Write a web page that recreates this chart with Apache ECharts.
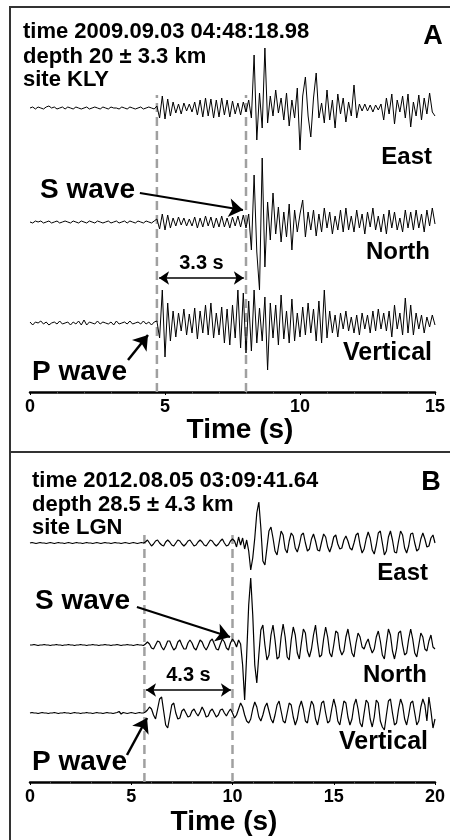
<!DOCTYPE html>
<html>
<head>
<meta charset="utf-8">
<title>seismograms</title>
<script src="https://cdn.jsdelivr.net/npm/echarts@6/dist/echarts.min.js"></script>
<style>
  html, body { margin: 0; padding: 0; background: #fff; }
  #chart { width: 450px; height: 840px; }
</style>
</head>
<body>
<div id="chart"></div>
<script>
const dt = 0.1

// ---- event A (2009.09.03, KLY), 0..15 s ----
const eastA = [
  0, 1, -1, 1, 0, -1, 1, 2, 0, 1,
  -1, 0, 1, -1, 1, 0, -1, 1, 0, -1,
  0, 1, -1, 0, 1, 0, -1, 1, 0, -1,
  1, 0, 0, -1, 1, 0, -1, 1, 0, -1,
  0, 1, -1, 0, 1, 0, -1, 2, -10, 12,
  -11, 9, -8, 6, -5, 4, -6, 5, -3, 4,
  -4, 6, -7, 8, -9, 10, -8, 9, -10, 8,
  -9, 10, -7, 8, -9, 7, -6, 5, -7, 6,
  -4, 8, -10, 53, -32, 15, -20, 60, -15, 12,
  -8, 18, -5, 10, -12, 15, -18, 8, -10, 20,
  -42, 12, 31, -8, -29, 10, 35, -10, 5, -15,
  18, -12, 8, -20, 14, -6, 10, -14, 6, -8,
  23, -10, 4, -3, 4, -3, 3, -4, 3, -2,
  4, -12, 10, -6, 14, -16, 8, -4, 12, -10,
  14, -19, 6, -8, 13, -12, 10, -6, 15, -4,
  -8
]
const northA = [
  0, -1, 1, 0, 1, -1, 0, 1, -1, 0,
  1, -1, 0, 1, 0, -1, 1, 0, -1, 1,
  0, -1, 1, 0, -1, 1, 0, -1, 0, 1,
  -1, 0, 1, -1, 0, 1, -1, 1, 0, -1,
  1, 0, -1, 1, 0, -1, 1, 3, -7, 8,
  -8, 7, -6, 4, -4, 5, -3, 4, -4, 3,
  -4, 5, -6, 4, -5, 6, -4, 5, -6, 4,
  -5, 6, -5, 4, -6, 5, -4, 6, -5, 7,
  -6, 8, -28, 47, -30, -68, 64, -45, 20, -18,
  29, -12, 15, -20, 10, -15, 18, -28, 12, -10,
  8, 22, -15, 10, -8, 12, -14, 8, -10, 14,
  -6, 10, -12, 6, -8, 12, -10, 14, -8, 6,
  -10, 12, -6, 8, -12, 10, -5, 14, -8, 6,
  -10, 8, -12, 12, -6, 10, -8, 4, -10, 12,
  -6, 10, -8, 12, -6, 8, -10, 12, -4, 14,
  -2
]
const vertA = [
  1, -2, 1, 0, 2, -1, 1, -2, 0, 1,
  -1, 2, -1, 0, 1, -2, 1, -1, 2, -2,
  3, -2, 1, 0, -1, 2, -1, 1, 0, -1,
  1, -2, 2, -1, 0, 1, -1, 2, -1, 0,
  1, -1, 2, -1, 1, -2, 1, 2, -15, 33,
  -34, 20, -18, 12, -14, 10, -8, 14, -12, 9,
  -10, 15, -16, 12, -10, 18, -12, 20, -15, 10,
  -12, 16, -20, 14, -22, 18, -15, 33, -25, 30,
  -30, 22, -28, 33, -20, 15, -18, 26, -47, 20,
  -15, 18, -22, 28, -16, 12, -20, 24, -18, 10,
  -14, 16, -12, 20, -10, 14, -18, 22, -20, 33,
  -15, 12, -10, 8, -14, 10, -6, 12, -8, 6,
  -10, 8, -12, 10, -6, 8, -10, 12, -8, 14,
  -6, 10, -8, 12, -14, 18, -6, 10, -12, 25,
  -10, 18, -12, 10, -6, 8, -10, 6, -4, 8,
  -2
]

// ---- event B (2012.08.05, LGN), 0..20 s ----
const eastB = [
  0, 0.5, 0, -0.5, 0, 0.5, 0, 0, -0.5, 0,
  0.5, 0, -0.5, 0, 0.5, 0, 0, -0.5, 0, 0.5,
  0, -0.5, 0, 0.5, 0, 0, -0.5, 0, 0.5, 0,
  0, -0.5, 0, 0.5, 0, -0.5, 0, 0.5, 0, 0,
  -0.5, 0, 0.5, 0, 0, -0.5, 0, 0.5, 0, -0.5,
  0, 0.5, 0, -0.5, 0, 0.5, 0, 1, 3, 0,
  -3, -1, 2, 3, 0, -2, -3, 1, 3, 1,
  -2, -3, 0, 3, 2, -1, -3, -1, 2, 3,
  0, -3, -2, 1, 3, 1, -2, -3, 0, 3,
  2, -1, -3, -1, 2, 4, 0, -3, -2, 2,
  4, 2, -4, 6, -2, 5, -6, 3, -8, -27,
  -15, 5, 30, 41, 15, -18, -22, -5, 12, 16,
  5, -8, -12, 0, 12, 8, -6, -10, 2, 10,
  7, -5, -9, -2, 8, 10, 0, -8, -6, 4,
  9, 2, -7, -8, 1, 9, 6, -4, -9, -3,
  6, 8, -1, -6, -5, 3, 7, 2, -5, -7,
  0, 8, 10, -2, -10, -6, 4, 11, 5, -7,
  -11, -2, 10, 12, 0, -12, -8, 6, 12, 3,
  -9, -10, 2, 12, 8, -5, -10, -3, 9, 10,
  0, -8, -6, 4, 10, 4, -4, -3, 5, 8,
  0
]
const northB = [
  0, 0, 0.5, 0, -0.5, 0, 0, 0.5, 0, 0,
  -0.5, 0, 0, 0.5, 0, 0, -0.5, 0, 0, 0.5,
  0, 0, -0.5, 0, 0, 0.5, 0, 0, -0.5, 0,
  0, 0.5, 0, 0, -0.5, 0, 0, 0.5, 0, 0,
  -0.5, 0, 0, 0.5, 0, -0.5, 0, 0, 0.5, 0,
  0, -0.5, 0, 0.5, 0, 0, -0.5, 1, 3, 1,
  -3, -4, 0, 4, 3, -2, -5, -1, 4, 4,
  -1, -5, -3, 3, 5, 0, -4, -4, 2, 5,
  2, -3, -5, 0, 5, 3, -2, -5, -1, 4,
  6, 1, -4, -5, 1, 6, 3, -3, -5, 2,
  6, 3, -2, 5, 1, -20, -55, -10, 40, 67,
  30, -20, -38, -10, 15, 20, 0, -15, -10, 10,
  20, 5, -14, -12, 8, 21, 8, -12, -15, 5,
  18, 10, -8, -14, 2, 16, 12, -6, -12, -4,
  10, 20, 2, -12, -10, 6, 18, 8, -8, -12,
  0, 14, 12, -4, -10, -6, 8, 16, 4, -8,
  -12, 2, 12, 8, -2, -4, 2, 6, -2, -8,
  -4, 8, 14, 4, -10, -14, 2, 16, 10, -6,
  -14, -4, 12, 14, 0, -10, -8, 6, 16, 6,
  -8, -12, 0, 12, 8, -4, -6, 4, 10, -2,
  -4
]
const vertB = [
  0, 0.5, 0, 0, -0.5, 0, 0.5, 0, 0, -0.5,
  0, 0, 0.5, 0, -0.5, 0, 0, 0.5, 0, 0,
  -0.5, 0, 0.5, 0, 0, -0.5, 0, 0, 0.5, 0,
  0, -0.5, 0, 0.5, 0, 0, -0.5, 0, 0.5, 0,
  0, -0.5, 0, 0.5, 1.5, -1, 0.5, 0, -0.5, 0,
  0.5, 0, -0.5, 0, 0.5, 0, 0, 1, 3, 6,
  4, -2, -6, 4, 14, 16, 2, -12, -15, -4,
  8, 10, 0, -6, -5, 2, 4, 0, -4, -3,
  2, 4, 0, -3, 1, 6, 2, -4, -3, 2,
  4, 0, -4, -2, 3, 4, 0, -3, 1, 4,
  0, -5, -2, 4, 10, 6, -2, -8, -10, -6,
  4, 11, 6, -4, -8, -2, 6, 10, 2, -6,
  -10, -2, 8, 12, 2, -8, -10, 0, 10, 8,
  -4, -12, -6, 6, 12, 4, -8, -10, 2, 12,
  8, -6, -12, -2, 10, 12, 0, -10, -8, 4,
  14, 6, -8, -12, 0, 12, 10, -4, -12, -6,
  8, 14, 4, -10, -14, 0, 13, 10, -6, -14,
  -4, 13, 10, -8, -14, -17, -2, 12, 14, 0,
  -12, -10, 4, 14, 8, -6, -12, -2, 10, 12,
  0, -12, -8, 6, 14, 8, -8, 16, 2, -15,
  -6
]

// picked arrivals (s) and labels
const arrivalsA = [4.7, 8.0]
const arrivalsB = [5.65, 10.0]
const lagLabels = ['3.3 s', '4.3 s']
const infoA = ['time 2009.09.03 04:48:18.98', 'depth 20 \u00b1 3.3 km', 'site KLY']
const infoB = ['time 2012.08.05 03:09:41.64', 'depth 28.5 \u00b1 4.3 km', 'site LGN']
const compNames = ['East', 'North', 'Vertical']

const FONT = '"Liberation Sans", Arial, Helvetica, sans-serif'
const chart = echarts.init(document.getElementById('chart'))

function trace(amp, off, gi, w) {
  return {
    type: 'line',
    xAxisIndex: gi,
    yAxisIndex: gi,
    data: amp.map((a, i) => [+(i * dt).toFixed(2), off + a]),
    symbol: 'none',
    silent: true,
    lineStyle: { color: '#000', width: w },
    z: 3
  }
}

function dashed(t, top, gi, extra) {
  return Object.assign({
    type: 'line',
    xAxisIndex: gi,
    yAxisIndex: gi,
    data: [[t, 0], [t, top]],
    symbol: 'none',
    silent: true,
    lineStyle: { color: '#a0a0a0', width: 2.5, type: [9, 5] },
    z: 2
  }, extra || {})
}

// arrows and the p-s lag bar, in data coordinates of each panel
function notes(arr, lagY, lag, sArrow, pArrow) {
  return {
    silent: true,
    symbol: ['none', 'arrow'],
    animation: false,
    label: { show: false },
    data: [
      [{ coord: [arr[0] + 0.08, lagY], symbol: 'arrow', symbolSize: 10,
         lineStyle: { color: '#000', width: 1.5, type: 'solid' },
         label: { show: true, formatter: lag, position: 'middle', distance: 5,
           color: '#000', fontSize: 20, fontWeight: 'bold', fontFamily: FONT } },
       { coord: [arr[1] - 0.08, lagY], symbol: 'arrow', symbolSize: 10 }],
      [{ coord: sArrow[0], symbol: 'none', lineStyle: { color: '#000', width: 2.2, type: 'solid' } },
       { coord: sArrow[1], symbol: 'arrow', symbolSize: 14 }],
      [{ coord: pArrow[0], symbol: 'none', lineStyle: { color: '#000', width: 2.5, type: 'solid' } },
       { coord: pArrow[1], symbol: 'arrow', symbolSize: 14 }]
    ]
  }
}

function xAxisFor(gi, max) {
  return {
    gridIndex: gi,
    type: 'value',
    min: 0,
    max: max,
    interval: 5,
    axisLine: { onZero: false, lineStyle: { color: '#000', width: 2.5 } },
    axisTick: { show: true, length: 3, lineStyle: { color: '#000', width: 1 } },
    minorTick: { show: true, splitNumber: 5, length: 2, lineStyle: { color: '#555' } },
    splitLine: { show: false },
    axisLabel: { color: '#000', fontSize: 18, fontWeight: 'bold', fontFamily: FONT, margin: 6 }
  }
}

function txt(s, x, y, size, align) {
  return {
    type: 'text',
    silent: true,
    z: 10,
    style: {
      text: s, x: x, y: y,
      font: 'bold ' + size + 'px ' + FONT,
      fill: '#000',
      align: align, textAlign: align,
      verticalAlign: 'middle', textVerticalAlign: 'middle'
    }
  }
}

const graphics = [
  { type: 'rect', silent: true, shape: { x: 10, y: 7, width: 460, height: 445 },
    style: { fill: 'none', stroke: '#333', lineWidth: 2 } },
  { type: 'rect', silent: true, shape: { x: 10, y: 452, width: 460, height: 420 },
    style: { fill: 'none', stroke: '#333', lineWidth: 2 } },
  txt(infoA[0], 23, 32, 22, 'left'),
  txt(infoA[1], 23, 57, 22, 'left'),
  txt(infoA[2], 23, 80, 22, 'left'),
  txt('A', 433, 37, 27, 'center'),
  txt(compNames[0], 432, 157, 24, 'right'),
  txt(compNames[1], 430, 252, 24, 'right'),
  txt(compNames[2], 432, 353, 25, 'right'),
  txt('S wave', 40, 190, 28, 'left'),
  txt('P wave', 32, 372, 28, 'left'),
  txt('Time (s)', 240, 430, 28, 'center'),
  txt(infoB[0], 32, 481, 22, 'left'),
  txt(infoB[1], 32, 505, 22, 'left'),
  txt(infoB[2], 32, 528, 22, 'left'),
  txt('B', 431, 483, 27, 'center'),
  txt(compNames[0], 428, 573, 24, 'right'),
  txt(compNames[1], 427, 675, 24, 'right'),
  txt(compNames[2], 428, 742, 25, 'right'),
  txt('S wave', 35, 601, 28, 'left'),
  txt('P wave', 32, 762, 28, 'left'),
  txt('Time (s)', 224, 822, 28, 'center')
]

chart.setOption({
  animation: false,
  backgroundColor: '#fff',
  grid: [
    { left: 30, right: 15, top: 7, height: 385 },
    { left: 30, right: 15, top: 452, height: 330 }
  ],
  xAxis: [xAxisFor(0, 15), xAxisFor(1, 20)],
  yAxis: [
    { gridIndex: 0, type: 'value', min: 0, max: 385, show: false },
    { gridIndex: 1, type: 'value', min: 0, max: 330, show: false }
  ],
  graphic: graphics,
  series: [
    trace(eastA, 284, 0, 1),
    trace(northA, 170, 0, 1),
    trace(vertA, 69, 0, 1),
    dashed(arrivalsA[0], 297, 0, {
      markLine: notes(arrivalsA, 114, lagLabels[0],
        [[4.07, 199], [7.89, 182]],
        [[3.63, 32], [4.37, 57]])
    }),
    dashed(arrivalsA[1], 297, 0),
    trace(eastB, 239, 1, 1.2),
    trace(northB, 137, 1, 1.2),
    trace(vertB, 69, 1, 1.2),
    dashed(arrivalsB[0], 250, 1, {
      markLine: notes(arrivalsB, 92, lagLabels[1],
        [[5.28, 175], [9.88, 145]],
        [[4.79, 27], [5.78, 64]])
    }),
    dashed(arrivalsB[1], 250, 1)
  ]
})
</script>
</body>
</html>
